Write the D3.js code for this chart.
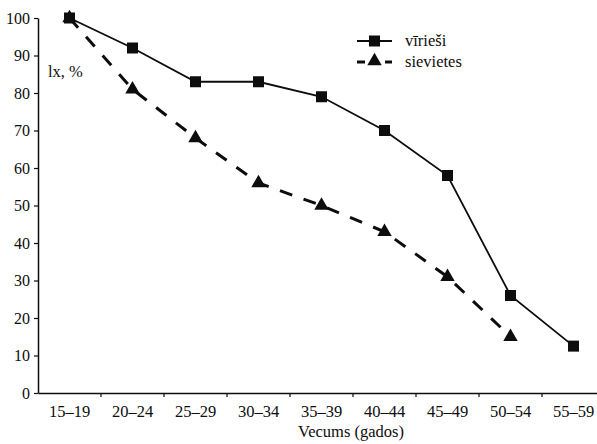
<!DOCTYPE html>
<html><head><meta charset="utf-8">
<script src="https://cdn.jsdelivr.net/npm/d3@7"></script>
<style>body{margin:0;background:#fff}svg{display:block}</style>
</head><body>
<svg id="c" width="597" height="444"></svg>
<script>
const categories = ["15–19","20–24","25–29","30–34","35–39","40–44","45–49","50–54","55–59"];
const men = [100, 92, 83, 83, 79, 70, 58, 26, 12.5];
const women = [100, 81, 68, 56, 50, 43, 31, 15];
const yTicks = [0,10,20,30,40,50,60,70,80,90,100];
const seriesNames = ["vīrieši","sievietes"];

const svg = d3.select("#c");
const font = "'Liberation Serif', 'Times New Roman', serif";
const ink = "#0d0d0d";
const x = d3.scaleBand().domain(categories).range([38, 605]);
const y = d3.scaleLinear().domain([0,100]).range([393, 18]);

// y axis
const ya = svg.append("g").attr("transform","translate(38,0)")
  .call(d3.axisLeft(y).tickValues(yTicks).tickSize(4).tickSizeOuter(0).tickPadding(4));
ya.select(".domain").attr("stroke", ink).attr("stroke-width", 1.5);
ya.selectAll(".tick line").attr("stroke", ink).attr("stroke-width", 1.2);
ya.selectAll("text").attr("font-family", font).attr("font-size", 16).attr("fill", ink);

// x axis
const xa = svg.append("g").attr("transform","translate(0,393)")
  .call(d3.axisBottom(x).tickSize(0).tickPadding(12));
xa.select(".domain").attr("stroke", ink).attr("stroke-width", 1.5);
xa.selectAll("text").attr("font-family", font).attr("font-size", 16.5).attr("fill", ink);
// tick marks at band boundaries
xa.selectAll("line.bt").data(categories.slice(1)).enter().append("line")
  .attr("class","bt")
  .attr("x1", d => x(d)).attr("x2", d => x(d))
  .attr("y1", 0).attr("y2", 4).attr("stroke", ink).attr("stroke-width", 1.2);

svg.append("text").attr("x", 351).attr("y", 437).attr("text-anchor","middle")
  .attr("font-family", font).attr("font-size", 16.5).attr("fill", ink).text("Vecums (gados)");
svg.append("text").attr("x", 48).attr("y", 77)
  .attr("font-family", font).attr("font-size", 16.5).attr("fill", ink).text("lx, %");

const cx = (d,i) => x(categories[i]) + x.bandwidth()/2;
const line = d3.line().x((d,i)=>cx(d,i)).y(d=>y(d));

svg.append("path").datum(women).attr("d", line).attr("fill","none")
  .attr("stroke", ink).attr("stroke-width", 3).attr("stroke-dasharray","13,12");
svg.append("path").datum(men).attr("d", line).attr("fill","none")
  .attr("stroke", ink).attr("stroke-width", 1.8);

const tri = d3.symbol().type(d3.symbolTriangle).size(90);
svg.selectAll("path.tri").data(women).enter().append("path").attr("class","tri")
  .attr("d", tri).attr("transform",(d,i)=>`translate(${cx(d,i)},${y(d)})`).attr("fill", ink);
svg.selectAll("rect.sq").data(men).enter().append("rect").attr("class","sq")
  .attr("x",(d,i)=>cx(d,i)-5.5).attr("y", d=>y(d)-5.5).attr("width",11).attr("height",11).attr("fill", ink);

// legend
const lg = svg.append("g");
lg.append("line").attr("x1",357).attr("x2",392).attr("y1",41).attr("y2",41).attr("stroke",ink).attr("stroke-width",1.8);
lg.append("rect").attr("x",369).attr("y",35.5).attr("width",11).attr("height",11).attr("fill",ink);
lg.append("line").attr("x1",357).attr("x2",392).attr("y1",62).attr("y2",62).attr("stroke",ink).attr("stroke-width",3).attr("stroke-dasharray","8,6");
lg.append("path").attr("d", tri).attr("transform","translate(374.5,61)").attr("fill",ink);
lg.selectAll("text").data(seriesNames).enter().append("text")
  .attr("x",405).attr("y",(d,i)=>46+i*21)
  .attr("font-family", font).attr("font-size", 16.5).attr("fill", ink).text(d=>d);
</script>
</body></html>
